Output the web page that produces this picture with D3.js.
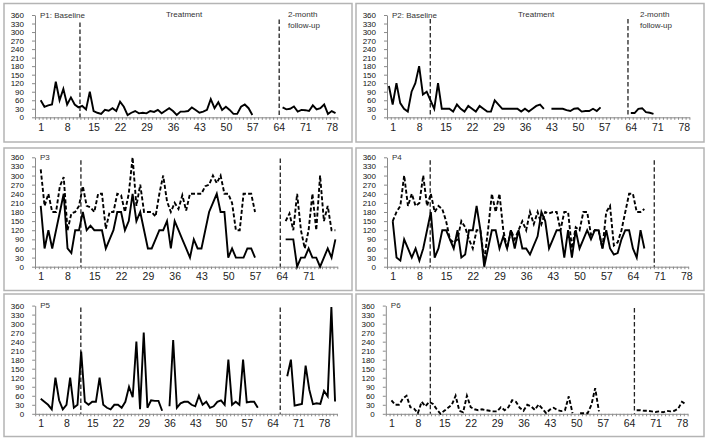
<!DOCTYPE html>
<html><head><meta charset="utf-8">
<script src="https://cdn.jsdelivr.net/npm/d3@7/dist/d3.min.js"></script>
<style>body{margin:0;background:#fff}svg{display:block}</style>
</head><body>
<svg id="chart" width="707" height="442"></svg>
<script>
// ---------- data (index = session number, starting at session 0) ----------
const yTickValues = [0,30,60,90,120,150,180,210,240,270,300,330,360];
const xTickLabels = [1,8,15,22,29,36,43,50,57,64,71,78];
const xTickLabelsP3 = [1,8,15,22,29,36,43,50,57,64,71];

const p1Solid = [null,
  60,37,42,45,125,60,100,45,70,45,35,
  40,28,90,22,16,12,26,23,32,22,55,37,8,16,22,14,16,14,22,19,26,14,23,32,22,8,20,20,22,35,26,16,20,26,64,32,53,26,37,26,12,12,37,45,32,8,
  null,null,null,null,null,null,null,
  35,28,30,38,20,26,25,22,42,28,32,45,12,22,15];

const p2Solid = [110,45,120,50,30,20,90,120,180,80,90,
  60,30,120,30,30,30,20,45,30,20,40,30,20,40,30,20,20,60,45,30,30,30,30,30,20,30,20,30,40,45,30,
  null,
  30,30,30,30,25,22,30,32,20,22,22,30,22,35,
  null,null,null,null,null,null,null,
  15,15,30,32,18,16,12,
  null,null,null,null,null,null,null,null,null];

const p3Solid = [null,
  200,60,120,60,120,180,240,60,45,120,120,
  180,120,135,120,120,120,60,90,120,180,180,120,150,240,150,180,120,60,60,90,120,120,150,60,150,120,90,60,30,90,60,60,120,180,210,240,180,180,30,60,30,30,30,60,60,30,
  null,null,null,null,null,null,null,
  90,90,90,0,30,30,60,30,30,0,30,60,30,90];
const p3Dashed = [null,
  320,200,240,180,180,265,295,120,175,180,200,
  265,200,195,180,240,240,125,180,180,240,235,180,240,360,200,270,180,180,180,165,240,300,215,180,210,190,235,185,240,240,240,240,265,270,300,275,300,240,240,210,120,120,240,240,240,180,
  null,null,null,null,null,null,null,
  150,175,120,240,120,60,120,240,120,300,150,200,120,120];

const p4Solid = [null,
  150,30,20,90,60,30,60,20,60,120,180,30,60,120,120,90,60,120,30,40,120,120,200,120,0,60,120,120,60,100,60,120,60,120,60,60,40,
  70,100,180,150,60,90,120,120,30,120,30,120,60,90,120,90,120,120,60,120,60,40,45,90,120,120,60,30,120,60,
  null,null,null,null,null,null,null,null,null,null,null];
const p4Dashed = [null,
  150,180,200,300,200,240,200,210,300,200,240,180,200,190,150,90,80,90,150,130,90,60,120,120,20,120,240,180,240,120,60,120,90,120,150,120,180,
  140,180,140,180,175,180,180,120,180,180,60,130,120,180,180,105,120,120,60,180,200,70,80,120,180,240,240,180,180,190,
  null,null,null,null,null,null,null,null,null,null,null];

const p5Solid = [null,
  50,40,30,15,120,45,15,30,120,20,30,
  207,40,30,40,40,120,30,20,15,30,30,20,40,90,55,240,15,270,20,45,43,43,10,null,25,245,20,35,40,40,30,25,60,30,40,20,25,40,45,30,180,30,40,30,180,38,40,40,20,
  null,null,null,null,null,null,null,
  125,180,27,30,33,160,80,32,35,33,76,58,355,41];

const p6Dashed = [null,
  45,30,30,50,60,22,17,2,40,25,40,
  33,15,0,10,20,30,60,10,5,60,22,15,12,15,12,10,8,8,22,12,22,45,40,20,10,30,25,13,31,17,2,14,20,12,9,12,58,2,null,2,2,2,30,85,8,
  null,null,null,null,null,null,null,null,null,
  12,12,10,10,8,6,8,5,10,8,10,17,40,32];

// phase-change lines, in session units
const phaseP1 = [11.4, 64.1];
const phaseP2 = [10.95, 63.25];
const phaseP3 = [11.5, 63.6];
const phaseP4 = [10.83, 69.6];
const phaseP5 = [11.9, 66.1];
const phaseP6 = [11.3, 65.4];

// ---------- layout ----------
const rows = [{by:3.5, bh:138.5, yTop:15, yBot:117.3},
              {by:148, bh:142.5, yTop:157.3, yBot:266.7},
              {by:294, bh:142.5, yTop:305.6, yBot:413.8}];
const boxX = [4, 356];

const panels = [
  {name:'P1: Baseline', col:0, row:0, x0:35.0, x1:337.4, series:[{d:p1Solid, dash:false}], phase:phaseP1, phaseTop:[334,344], labels:xTickLabels,
   extra:[{t:'Treatment', x:166, y:14},{t:'2-month', x:288, y:14},{t:'follow-up', x:288, y:25}]},
  {name:'P2: Baseline', col:1, row:0, x0:387.0, x1:689.4, series:[{d:p2Solid, dash:false}], phase:phaseP2, phaseTop:[346,346], labels:xTickLabels,
   extra:[{t:'Treatment', x:518, y:14},{t:'2-month', x:640, y:14},{t:'follow-up', x:640, y:25}]},
  {name:'P3', col:0, row:1, x0:35.0, x1:337.3, series:[{d:p3Solid, dash:false},{d:p3Dashed, dash:true}], phase:phaseP3, phaseTop:[350,356], labels:xTickLabelsP3, extra:[]},
  {name:'P4', col:1, row:1, x0:387.0, x1:688.2, series:[{d:p4Solid, dash:false},{d:p4Dashed, dash:true}], phase:phaseP4, phaseTop:[350,350], labels:xTickLabels, extra:[]},
  {name:'P5', col:0, row:2, x0:35.2, x1:336.9, series:[{d:p5Solid, dash:false}], phase:phaseP5, phaseTop:[354,354], labels:xTickLabels, extra:[]},
  {name:'P6', col:1, row:2, x0:385.8, x1:687.6, series:[{d:p6Dashed, dash:true}], phase:phaseP6, phaseTop:[356,352], labels:xTickLabels, extra:[]}
];

const FONT = "'Liberation Sans', Arial, sans-serif";
const svg = d3.select('#chart');
svg.append('rect').attr('width',707).attr('height',442).attr('fill','#fff');

panels.forEach(p => {
  const r = rows[p.row];
  const len = p.series[0].d.length;   // sessions 0 .. len-1
  const g = svg.append('g');
  g.append('rect').attr('x', boxX[p.col]).attr('y', r.by).attr('width', 348).attr('height', r.bh)
    .attr('fill','none').attr('stroke','#b4b4b4').attr('stroke-width',1.5);

  const x = d3.scaleLinear().domain([-0.5, len - 0.5]).range([p.x0, p.x1]);
  const y = d3.scaleLinear().domain([0, 360]).range([r.yBot, r.yTop]);

  // y axis
  const ya = g.append('g').attr('transform', `translate(${p.x0},0)`)
    .call(d3.axisLeft(y).tickValues(yTickValues).tickSize(3).tickSizeOuter(0).tickPadding(8));
  ya.select('.domain').attr('stroke','#8a8a8a');
  ya.selectAll('.tick line').attr('stroke','#8a8a8a');
  ya.selectAll('text').attr('font-family',FONT).attr('font-size','8px').attr('fill','#111');

  // x axis (minor ticks at category boundaries)
  const bounds = d3.range(-1, len).map(i => i + 0.5);
  const xa = g.append('g').attr('transform', `translate(0,${r.yBot})`)
    .call(d3.axisBottom(x).tickValues(bounds).tickSize(2.5).tickSizeOuter(0).tickFormat(''));
  xa.select('.domain').attr('stroke','#8a8a8a');
  xa.selectAll('.tick line').attr('stroke','#8a8a8a');
  const xl = g.append('g').attr('transform', `translate(0,${r.yBot})`)
    .call(d3.axisBottom(x).tickValues(p.labels).tickSize(0).tickPadding(6));
  xl.select('.domain').remove();
  xl.selectAll('text').attr('font-family',FONT).attr('font-size','10.5px').attr('fill','#222');

  // phase lines
  p.phase.forEach((v, k) => {
    g.append('line').attr('x1', x(v)).attr('x2', x(v)).attr('y1', y(p.phaseTop[k])).attr('y2', y(0))
      .attr('stroke','#222').attr('stroke-width',1.3).attr('stroke-dasharray','4.5,2.5');
  });

  // series
  const line = d3.line().defined(d => d.v !== null).x(d => x(d.i)).y(d => y(d.v));
  p.series.forEach(s => {
    const pts = s.d.map((v, k) => ({i: k, v}));
    g.append('path').datum(pts).attr('d', line).attr('fill','none').attr('stroke','#000')
      .attr('stroke-width',1.9).attr('stroke-linejoin','miter')
      .attr('stroke-dasharray', s.dash ? '4,2.2' : null);
  });

  // titles
  g.append('text').attr('x', p.x0 + 5).attr('y', y(360) + 2.5).attr('font-family',FONT)
    .attr('font-size','8px').attr('fill','#333').text(p.name);
  p.extra.forEach(e => {
    g.append('text').attr('x', e.x).attr('y', e.y + 3).attr('font-family',FONT)
      .attr('font-size','8px').attr('fill','#333').text(e.t);
  });
});
</script>
</body></html>
